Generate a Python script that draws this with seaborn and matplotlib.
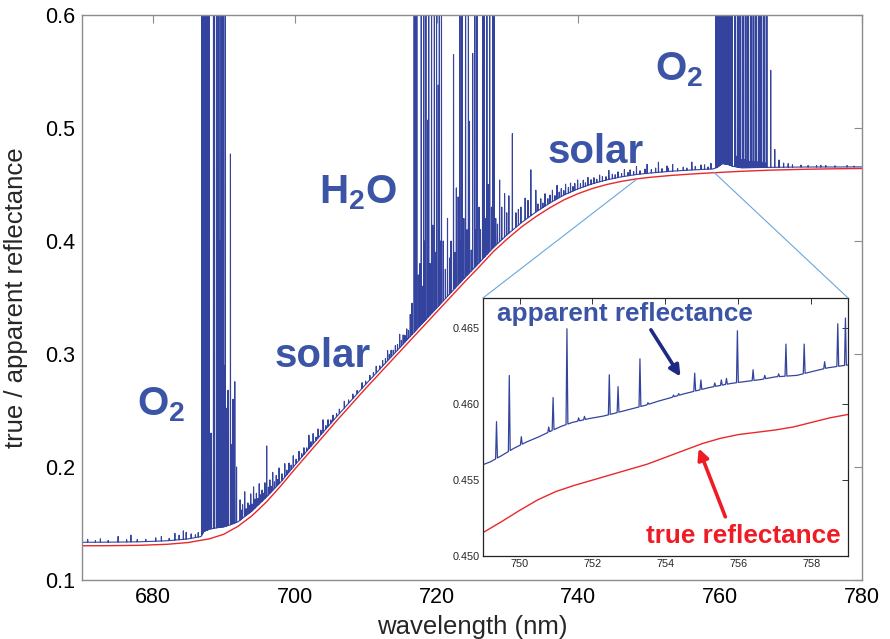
import numpy as np
import matplotlib
matplotlib.use("Agg")
import matplotlib.pyplot as plt
import seaborn as sns
from matplotlib.patches import ConnectionPatch

# ---------------------------------------------------------------- data
# true (surface) reflectance, full range
true_wl = [670, 674, 678, 682, 685, 688, 690, 692, 694, 696, 698, 700, 702, 704,
           706, 708, 710, 712, 714, 716, 718, 720, 722, 724, 726, 728, 730, 732,
           734, 736, 738, 740, 742, 744, 746, 748, 750, 753, 756, 759, 763, 767,
           772, 776, 780]
true_refl = [0.1303, 0.1304, 0.1307, 0.1316, 0.1332, 0.1365, 0.1405, 0.1475,
             0.1570, 0.1690, 0.1830, 0.1980, 0.2125, 0.2270, 0.2415, 0.2555,
             0.2695, 0.2830, 0.2965, 0.3100, 0.3235, 0.3370, 0.3505, 0.3640,
             0.3770, 0.3905, 0.4020, 0.4125, 0.4215, 0.4295, 0.4365, 0.4420,
             0.4465, 0.4500, 0.4527, 0.4548, 0.4563, 0.4580, 0.4593, 0.4604,
             0.4617, 0.4627, 0.4635, 0.4639, 0.4642]

# apparent reflectance between the absorption lines, full range
app_wl = [670, 674, 678, 682, 685, 686.8, 687.2, 688, 689, 690, 691, 692, 694,
          696, 698, 700, 702, 704, 706, 708, 710, 712, 714, 716, 718, 720, 722,
          724, 726, 728, 730, 732, 734, 736, 738, 740, 742, 744, 746, 748, 750,
          753, 756, 759, 759.6, 760.3, 761.0, 761.75, 763, 767, 772, 776, 780]
app_refl = [0.1334, 0.1335, 0.1338, 0.1347, 0.1364, 0.1385, 0.1430, 0.1450,
            0.1462, 0.1470, 0.1490, 0.1515, 0.1612, 0.1733, 0.1865, 0.2015,
            0.2162, 0.2308, 0.2452, 0.2592, 0.2731, 0.2866, 0.3001, 0.3136,
            0.3271, 0.3406, 0.3541, 0.3676, 0.3806, 0.3941, 0.4058, 0.4164,
            0.4256, 0.4337, 0.4408, 0.4463, 0.4507, 0.4541, 0.4567, 0.4587,
            0.4601, 0.4617, 0.4629, 0.4638, 0.4652, 0.4685, 0.4680, 0.4662,
            0.4648, 0.4652, 0.4655, 0.4655, 0.4656]

# O2-B band lines (peak apparent reflectance)
o2b_wl = [686.88, 686.95, 687.02, 687.09, 687.16, 687.23, 687.30, 687.37,
          687.44, 687.51, 687.58, 687.65, 687.72, 687.79, 687.86, 687.93,
          688.20, 688.55, 688.68, 688.97, 689.06, 689.20, 689.31, 689.42,
          689.62, 689.72, 689.90, 690.02, 690.20, 690.35, 690.60, 690.94,
          691.12, 691.30, 691.55, 691.80]
o2b_peak = [0.65, 0.65, 0.65, 0.65, 0.65, 0.65, 0.65, 0.65,
            0.65, 0.65, 0.65, 0.49, 0.65, 0.65, 0.65, 0.65,
            0.23, 0.65, 0.65, 0.65, 0.30, 0.65, 0.65, 0.40,
            0.65, 0.65, 0.65, 0.29, 0.65, 0.252, 0.268, 0.477,
            0.22, 0.26, 0.2755, 0.20]

# H2O band lines
h2o_wl = [716.30, 716.55, 716.85, 716.97, 717.10, 717.22, 717.45, 717.65,
          717.85, 718.02, 718.20, 718.35, 718.50, 718.75, 718.90, 719.10,
          719.30, 719.47, 719.70, 719.85, 720.00, 720.25, 720.40, 720.55,
          720.70, 720.95, 721.25, 721.55, 721.85, 722.05, 722.40, 722.60,
          722.80, 723.05, 723.30, 723.45, 723.60, 723.85, 724.10, 724.30,
          724.50, 724.65, 724.90, 725.10, 725.40, 725.55, 725.70, 726.00,
          726.20, 726.50, 726.70, 726.90, 727.10, 727.30, 727.50, 727.75,
          727.95, 728.10, 728.35, 728.60, 728.90, 729.20, 729.60, 729.90,
          730.20, 730.70, 731.20, 731.55, 731.90, 732.50, 732.90, 733.30,
          734.00]
h2o_peak = [0.335, 0.345, 0.65, 0.65, 0.352, 0.65, 0.37, 0.38,
            0.65, 0.36, 0.65, 0.40, 0.65, 0.507, 0.65, 0.38,
            0.65, 0.414, 0.65, 0.39, 0.65, 0.538, 0.65, 0.40,
            0.65, 0.40, 0.375, 0.42, 0.385, 0.40, 0.565, 0.39,
            0.447, 0.439, 0.65, 0.40, 0.65, 0.42, 0.65, 0.41,
            0.65, 0.506, 0.392, 0.566, 0.65, 0.41, 0.65, 0.43,
            0.41, 0.65, 0.65, 0.42, 0.65, 0.45, 0.65, 0.43,
            0.65, 0.65, 0.42, 0.415, 0.454, 0.43, 0.442, 0.425,
            0.44, 0.495, 0.425, 0.428, 0.43, 0.438, 0.436, 0.463,
            0.445]

# O2-A band lines
o2a_wl = [759.40, 759.47, 759.54, 759.61, 759.68, 759.75, 759.82, 759.89,
          759.96, 760.03, 760.10, 760.17, 760.24, 760.31, 760.38, 760.45,
          760.52, 760.59, 760.66, 760.73, 760.80, 760.87, 760.94, 761.01,
          761.08, 761.15, 761.22, 761.29, 761.36, 761.43, 761.50, 761.57,
          761.64, 761.71,
          762.07, 762.15, 762.30, 762.44, 762.52, 762.65, 762.81, 762.89,
          763.05, 763.18, 763.26, 763.40, 763.55, 763.63, 763.78, 763.92,
          764.00, 764.15, 764.29, 764.37, 764.50, 764.66, 764.74, 764.90,
          765.03, 765.11, 765.25, 765.40, 765.48, 765.60, 765.77, 765.85,
          766.00, 766.14, 766.22, 766.35, 766.51, 766.59,
          767.13, 767.70, 768.30, 768.95, 769.60, 770.20, 771.40, 772.40,
          773.60, 774.20, 774.90, 776.20, 777.90, 778.90]
o2a_peak = [0.65, 0.65, 0.65, 0.65, 0.65, 0.65, 0.65, 0.65,
            0.65, 0.65, 0.65, 0.65, 0.65, 0.65, 0.65, 0.65,
            0.65, 0.65, 0.65, 0.65, 0.52, 0.65, 0.65, 0.65,
            0.65, 0.50, 0.65, 0.65, 0.65, 0.53, 0.65, 0.65,
            0.65, 0.65,
            0.65, 0.65, 0.475, 0.65, 0.65, 0.474, 0.65, 0.65,
            0.472, 0.65, 0.65, 0.472, 0.65, 0.65, 0.471, 0.65,
            0.65, 0.4705, 0.65, 0.65, 0.4705, 0.65, 0.65, 0.470,
            0.65, 0.65, 0.470, 0.65, 0.65, 0.4695, 0.65, 0.65,
            0.4695, 0.65, 0.65, 0.469, 0.65, 0.65,
            0.551, 0.481, 0.4717, 0.469, 0.4685, 0.4675, 0.4672, 0.4668,
            0.4668, 0.4670, 0.4668, 0.4666, 0.4668, 0.4663]

# weak solar (Fraunhofer) lines: height above the continuum
solar_wl = [670.8, 671.9, 672.6, 673.7, 675.1, 676.3, 676.9, 677.8, 679.0,
            680.4, 681.2, 682.3, 683.1, 683.7, 684.3, 684.7, 685.4, 686.0,
            686.4,
            692.30, 692.50, 692.65, 692.95, 693.15, 693.40, 693.60, 693.80,
            694.00, 694.20, 694.40, 694.60, 694.80, 695.00, 695.20, 695.40,
            695.60, 695.80, 696.05, 696.30, 696.50, 696.70, 696.90, 697.15,
            697.40, 697.60, 697.80, 698.20, 698.60, 698.90, 699.20, 699.50,
            699.80, 700.20, 700.60, 701.00, 701.30, 701.70, 702.00, 702.30,
            702.60, 703.00, 703.30, 703.70, 704.00, 704.40, 704.70, 705.10,
            705.40, 705.90, 706.30, 707.00, 707.60, 708.20, 708.80, 709.50,
            710.00, 710.60, 711.10, 711.50, 712.00, 712.40, 712.80, 713.10,
            713.35, 713.60, 713.90, 714.20, 714.50, 714.80, 715.05, 715.30,
            715.55, 715.80, 716.05,
            734.30, 734.70, 735.00, 735.30, 735.70, 736.00, 736.35, 736.70,
            737.00, 737.30, 737.60, 737.95, 738.20, 738.60, 738.90, 739.25,
            739.50, 739.90, 740.30, 740.70, 741.00, 741.35, 741.80, 742.20,
            742.60, 743.00, 743.40, 743.90, 744.30, 744.80, 745.20, 745.60,
            746.10, 746.50, 747.00, 747.30, 747.80, 748.20, 748.70, 749.40,
            749.70, 750.30, 750.90, 751.30, 751.80, 752.50, 752.70, 753.30,
            754.00, 754.80, 755.30, 756.00, 756.50, 757.30, 757.80, 758.30,
            758.70]
solar_height = [0.0025, 0.0015, 0.003, 0.0015, 0.005, 0.002, 0.006, 0.002,
                0.002, 0.003, 0.004, 0.002, 0.006, 0.004, 0.0075, 0.006,
                0.004, 0.0025, 0.004,
                0.018, 0.008, 0.012, 0.022, 0.006, 0.010, 0.007, 0.016,
                0.006, 0.020, 0.008, 0.012, 0.006, 0.018, 0.007, 0.010,
                0.006, 0.014, 0.045, 0.007, 0.012, 0.005, 0.016, 0.006,
                0.010, 0.005, 0.014, 0.006, 0.012, 0.004, 0.008, 0.004,
                0.010, 0.004, 0.008, 0.003, 0.006, 0.003, 0.012, 0.004,
                0.009, 0.003, 0.008, 0.004, 0.011, 0.003, 0.006, 0.003,
                0.005, 0.003, 0.004, 0.006, 0.003, 0.004, 0.003, 0.005,
                0.003, 0.004, 0.003, 0.006, 0.003, 0.005, 0.004, 0.009,
                0.004, 0.006, 0.004, 0.006, 0.005, 0.012, 0.005, 0.008,
                0.006, 0.010, 0.007,
                0.006, 0.009, 0.004, 0.011, 0.005, 0.007, 0.010, 0.004,
                0.012, 0.005, 0.007, 0.004, 0.009, 0.005, 0.008, 0.004,
                0.006, 0.008, 0.004, 0.006, 0.003, 0.007, 0.004, 0.005,
                0.003, 0.006, 0.004, 0.003, 0.008, 0.004, 0.003, 0.005,
                0.003, 0.006, 0.003, 0.005, 0.003, 0.007, 0.003, 0.004,
                0.008, 0.003, 0.004, 0.009, 0.003, 0.005, 0.003, 0.006,
                0.002, 0.003, 0.002, 0.007, 0.003, 0.004, 0.004, 0.002,
                0.005]

# detail window 749-759 nm
zoom_true_wl = [748.9, 749.5, 750.0, 750.5, 751.0, 751.5, 752.0, 752.5, 753.0,
                753.5, 754.0, 754.5, 755.0, 755.5, 756.0, 756.5, 757.0, 757.5,
                758.0, 758.5, 759.1]
zoom_true = [0.4514, 0.45225, 0.4530, 0.4537, 0.45425, 0.45465, 0.4550,
             0.45535, 0.4557, 0.45605, 0.4565, 0.45695, 0.4574, 0.45775,
             0.4580, 0.45815, 0.4583, 0.4585, 0.4588, 0.4591, 0.45937]
zoom_app_wl = [748.9, 749.2, 749.5, 749.85, 750.2, 750.5, 750.85, 751.15,
               751.45, 751.9, 752.3, 752.6, 753.0, 753.45, 753.8, 754.1,
               754.5, 755.2, 755.8, 756.2, 756.6, 757.0, 757.6, 758.1,
               758.45, 758.8, 759.1]
zoom_app = [0.45593, 0.4562, 0.4566, 0.4571, 0.45752, 0.45782, 0.45822,
            0.45855, 0.4588, 0.45905, 0.45922, 0.4594, 0.45965, 0.45993,
            0.4602, 0.4604, 0.46068, 0.4611, 0.46137, 0.4615, 0.46162,
            0.4618, 0.4619, 0.4622, 0.4624, 0.46252, 0.46262]
zoom_line_wl = [749.37, 749.72, 750.05, 750.80, 750.92, 751.30, 751.62, 751.78,
                752.46, 752.70, 753.30, 753.52, 754.22, 754.36, 754.80, 754.97,
                755.35, 755.53, 755.67, 755.97, 756.40, 756.72, 757.10, 757.30,
                757.80, 758.36, 758.72, 758.93]
zoom_line_peak = [0.45885, 0.46189, 0.45786, 0.4585, 0.46044, 0.46497, 0.4591,
                  0.4592, 0.46194, 0.46116, 0.46299, 0.4601, 0.4606, 0.4607,
                  0.46205, 0.4616, 0.4614, 0.4616, 0.4617, 0.46484, 0.46227,
                  0.4619, 0.4620, 0.46396, 0.46396, 0.4628, 0.4653, 0.46568]

x_ticks = [680, 700, 720, 740, 760, 780]
y_ticks = [0.1, 0.2, 0.3, 0.4, 0.5, 0.6]
zoom_x_ticks = [750, 752, 754, 756, 758]
zoom_y_ticks = [0.450, 0.455, 0.460, 0.465]


def with_lines(cont_wl, cont_val, line_wl, line_peak, half):
    """Continuum with narrow emission-like lines inserted at the given peaks."""
    cont_wl = np.asarray(cont_wl, float)
    cont_val = np.asarray(cont_val, float)
    line_wl = np.asarray(line_wl, float)
    line_peak = np.asarray(line_peak, float)
    lo, hi = line_wl - half, line_wl + half
    x = np.concatenate([cont_wl, lo, line_wl, hi])
    y = np.concatenate([cont_val, np.interp(lo, cont_wl, cont_val), line_peak,
                        np.interp(hi, cont_wl, cont_val)])
    order = np.argsort(x, kind="stable")
    return x[order], y[order]


solar_peak = np.interp(solar_wl, app_wl, app_refl) + np.asarray(solar_height)
all_wl = np.concatenate([o2b_wl, h2o_wl, o2a_wl, solar_wl])
all_peak = np.concatenate([o2b_peak, h2o_peak, o2a_peak, solar_peak])
app_x, app_y = with_lines(app_wl, app_refl, all_wl, all_peak, 0.02)
zapp_x, zapp_y = with_lines(zoom_app_wl, zoom_app, zoom_line_wl, zoom_line_peak, 0.025)

# ---------------------------------------------------------------- style
sns.set_style("white")
plt.rcParams["font.family"] = ["Liberation Sans", "DejaVu Sans"]
plt.rcParams["mathtext.fontset"] = "custom"
plt.rcParams["mathtext.rm"] = "Liberation Sans"
plt.rcParams["mathtext.bf"] = "Liberation Sans:bold"

BLUE_LINE = "#34449e"
BLUE_TEXT = "#3b54a5"
RED_LINE = "#e8282b"
RED_TEXT = "#ee1c25"
NAVY = "#1f2a86"

fig = plt.figure(figsize=(8.9, 6.39), dpi=100)
ax = fig.add_axes([0.0921, 0.0923, 0.8764, 0.8842])

sns.lineplot(x=app_x, y=app_y, ax=ax, color=BLUE_LINE, lw=0.8,
             estimator=None, sort=False)
sns.lineplot(x=true_wl, y=true_refl, ax=ax, color=RED_LINE, lw=1.0,
             estimator=None, sort=False)

ax.set_xlim(670, 780)
ax.set_ylim(0.1, 0.6)
ax.set_xticks(x_ticks)
ax.set_yticks(y_ticks)
ax.set_yticklabels([f"{v:.1f}" for v in y_ticks])
ax.tick_params(direction="in", top=True, right=True, length=6, width=0.8,
               color="#8c8c8c", labelsize=15.5, pad=5, labelcolor="black")
for s in ax.spines.values():
    s.set_color("#8c8c8c")
    s.set_linewidth(1.0)
ax.set_xlabel("wavelength (nm)", fontsize=18.5)
ax.set_ylabel("true / apparent reflectance", fontsize=18.5)
ax.xaxis.set_label_coords(0.5, -0.062)
ax.yaxis.set_label_coords(-0.069, 0.5)

txt = dict(color=BLUE_TEXT, fontsize=29, fontweight="bold", ha="center",
           va="baseline")
ax.text(681.1, 0.246, r"$\mathbf{O}_\mathbf{2}$", **txt)
ax.text(708.9, 0.4336, r"$\mathbf{H}_\mathbf{2}\mathbf{O}$", **txt)
ax.text(704.0, 0.2885, "solar", **txt)
ax.text(742.4, 0.469, "solar", **txt)
ax.text(754.2, 0.5425, r"$\mathbf{O}_\mathbf{2}$", **txt)

# ---------------------------------------------------------------- detail
axz = fig.add_axes([0.5427, 0.1299, 0.4101, 0.4038])
axz.set_facecolor("white")
sns.lineplot(x=zapp_x, y=zapp_y, ax=axz, color=BLUE_LINE, lw=0.9,
             estimator=None, sort=False)
sns.lineplot(x=zoom_true_wl, y=zoom_true, ax=axz, color=RED_LINE, lw=1.0,
             estimator=None, sort=False)
axz.set_xlim(749, 759)
axz.set_ylim(0.450, 0.467)
axz.set_xticks(zoom_x_ticks)
axz.set_yticks(zoom_y_ticks)
axz.set_yticklabels([f"{v:.3f}" for v in zoom_y_ticks])
axz.tick_params(direction="in", top=True, right=True, length=4, width=0.7,
                labelsize=7.8, pad=2.5, color="#333333")
for s in axz.spines.values():
    s.set_color("#222222")
    s.set_linewidth(0.9)

axz.text(749.38, 0.46546, "apparent reflectance", color=BLUE_TEXT,
         fontsize=18.8, fontweight="bold", ha="left", va="baseline")
axz.text(753.46, 0.45084, "true reflectance", color=RED_TEXT,
         fontsize=18.8, fontweight="bold", ha="left", va="baseline")
axz.annotate("", xy=(754.41, 0.46182), xytext=(753.6, 0.4649),
             arrowprops=dict(arrowstyle="-|>", color=NAVY, lw=2.6,
                             mutation_scale=16, shrinkA=0, shrinkB=0))
axz.annotate("", xy=(754.91, 0.45709), xytext=(755.64, 0.45258),
             arrowprops=dict(arrowstyle="-|>", color=RED_TEXT, lw=2.6,
                             mutation_scale=16, shrinkA=0, shrinkB=0))

for (xa, ya), xb in (((748.2, 0.4545), (0, 1)), ((759.1, 0.4610), (1, 1))):
    con = ConnectionPatch(xyA=(xa, ya), coordsA=ax.transData, xyB=xb,
                          coordsB=axz.transAxes, color="#6aa6dc", lw=0.8)
    fig.add_artist(con)

fig.savefig("out.png", dpi=100)
